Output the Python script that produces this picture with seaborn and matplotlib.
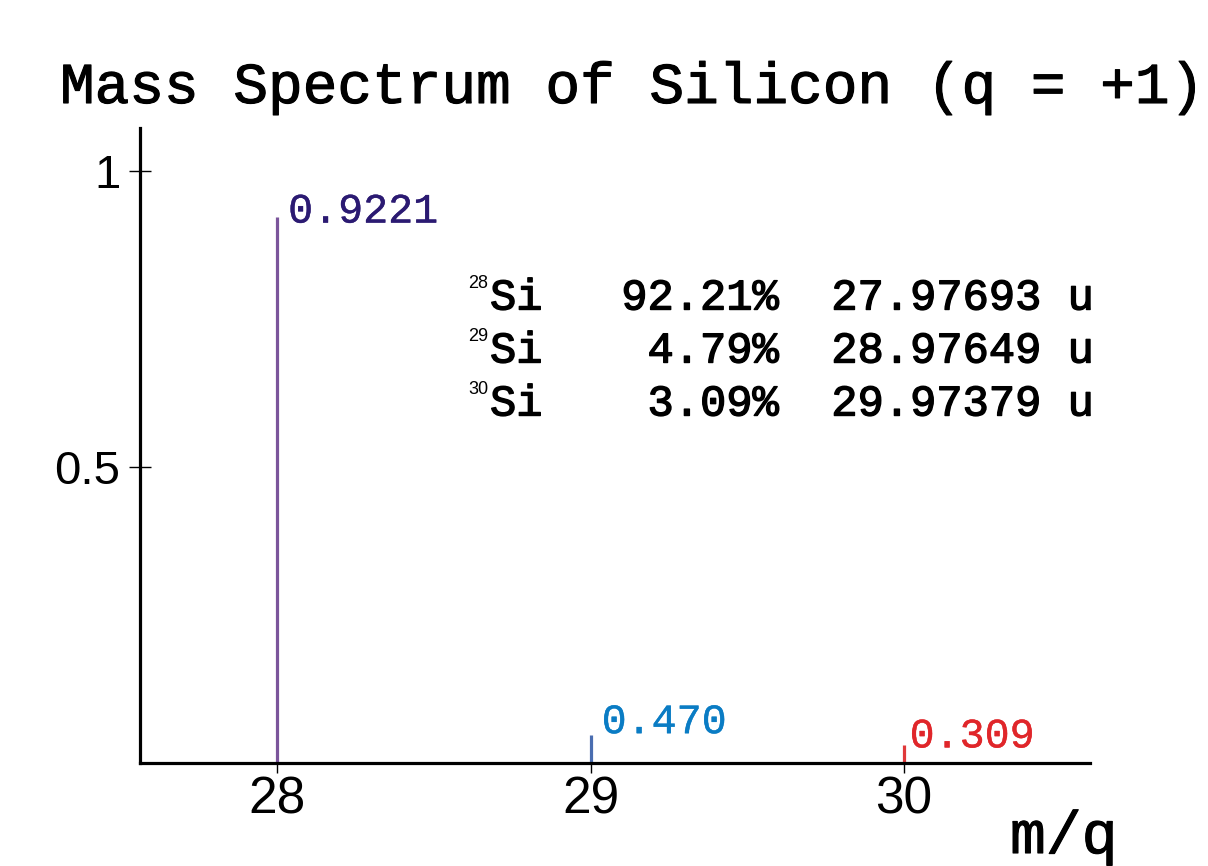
import matplotlib
matplotlib.use("Agg")
import matplotlib.pyplot as plt
import matplotlib.patheffects as pe
import seaborn as sns

# isotope data
mass_numbers = [28, 29, 30]
abundance = [0.9221, 0.0479, 0.0309]
peak_labels = ["0.9221", "0.470", "0.309"]
isotopes = ["28", "29", "30"]
percent_text = ["92.21%", "4.79%", "3.09%"]
mass_text = ["27.97693 u", "28.97649 u", "29.97379 u"]

line_colors = ["#7b559b", "#4a6db0", "#e0393a"]
label_colors = ["#2b1a72", "#0a7cc4", "#e0262a"]

sns.set_theme(style="ticks")
plt.rcParams["font.family"] = ["Liberation Sans", "DejaVu Sans"]

fig = plt.figure(figsize=(12.08, 8.66), dpi=100)
ax = fig.add_axes([140/1208, 1-763/866, 950/1208, 635/866])

ax.vlines(mass_numbers, 0, abundance, colors=line_colors, linewidth=2.3)

# slightly heavier strokes, closer to the Courier look
thick = [pe.withStroke(linewidth=0.8, foreground="black")]

offsets = [(8, 4), (8, 9), (4, 6)]
for x, y, lab, c, off in zip(mass_numbers, abundance, peak_labels,
                             label_colors, offsets):
    ax.annotate(lab, (x, y), xytext=off, textcoords="offset points",
                ha="left", va="center", color=c, fontsize=30,
                family="Liberation Mono",
                path_effects=[pe.withStroke(linewidth=0.3, foreground=c)])

ax.set_xlim(27.563, 30.593)
ax.set_ylim(0, 1.0726)
ax.set_xticks(mass_numbers)
ax.set_yticks([0.5, 1])
ax.set_yticklabels(["0.5", "1"])

for s in ["top", "right"]:
    ax.spines[s].set_visible(False)
for s in ["left", "bottom"]:
    ax.spines[s].set_linewidth(2.3)
    ax.spines[s].set_color("black")

ax.tick_params(axis="y", direction="inout", length=16, width=1, labelsize=34,
               colors="black", pad=6)
ax.tick_params(axis="x", direction="out", length=7, width=1, labelsize=37,
               colors="black", pad=2)

# isotope table
rows_y = [298, 351, 404]
for iso, pct, m, yp in zip(isotopes, percent_text, mass_text, rows_y):
    line = "Si " + pct.rjust(8) + "  " + m
    fig.text(490/1208, 1-yp/866, line, ha="left", va="center",
             fontsize=31.5, family="Liberation Mono", color="black",
             path_effects=[pe.withStroke(linewidth=1.0, foreground="black")])
    fig.text(488/1208, 1-(yp-15)/866, iso, ha="right", va="center",
             fontsize=13, color="black")

fig.text(60/1208, 1-103/866, "Mass Spectrum of Silicon (q = +1)",
         ha="left", va="baseline", fontsize=41.6,
         family="Liberation Mono", color="black", path_effects=thick)
fig.text(1010/1208, 1-853/866, "m/q", ha="left", va="baseline",
         fontsize=43, family="Liberation Mono", color="black",
         path_effects=thick)

fig.savefig("out.png", dpi=100)
